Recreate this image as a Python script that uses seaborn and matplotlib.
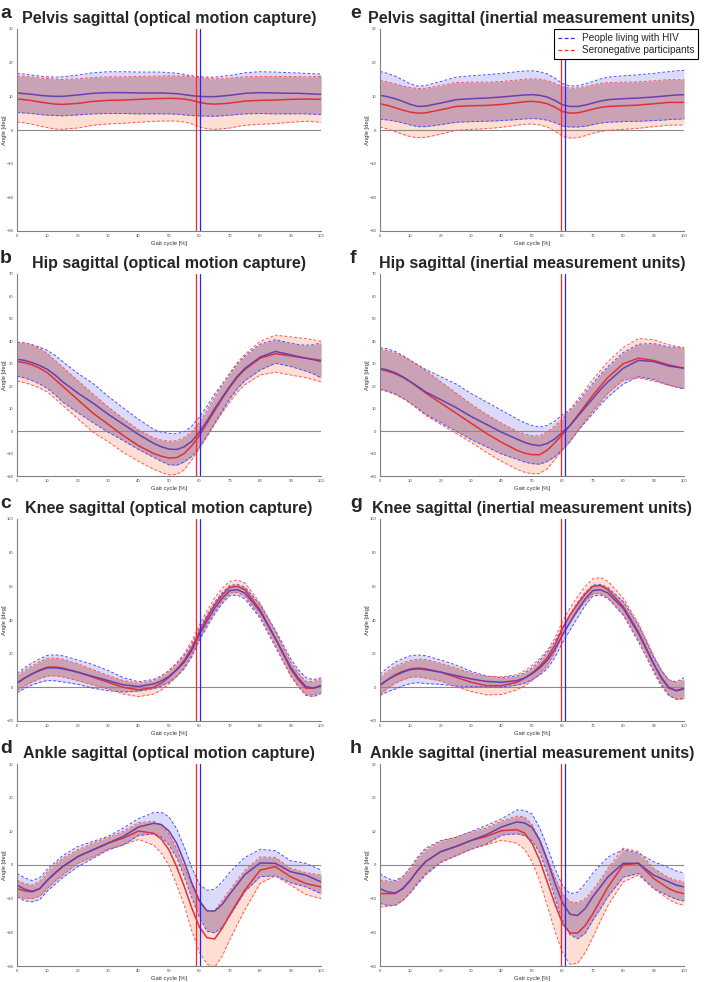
import numpy as np
import matplotlib.pyplot as plt
import seaborn as sns
from matplotlib.lines import Line2D

# gait cycle sample points [%]
gait_cycle = [0, 2.5, 5, 7.5, 10, 12.5, 15, 20, 25, 30, 35, 40, 45, 47.5, 50, 52.5,
              55, 57.5, 60, 62.5, 65, 67.5, 70, 72.5, 75, 80, 85, 90, 92.5, 95, 97.5, 100]

# toe-off (vertical lines), % gait cycle
toe_off_omc = {'HIV': 60.3, 'SN': 58.9}
toe_off_imu = {'HIV': 61.0, 'SN': 59.7}

# pelvis, optical motion capture
pelvis_omc_hiv_mean = [11.0, 10.8, 10.6, 10.3, 10.1, 10.0, 10.0, 10.4, 10.9, 11.1, 11.1, 11.0, 11.0, 11.0, 10.9, 10.8,
                       10.5, 10.2, 10.0, 9.9, 9.9, 10.1, 10.3, 10.6, 10.9, 11.1, 11.0, 10.9, 10.9, 10.8, 10.7, 10.6]
pelvis_omc_hiv_sd = [5.8, 5.75, 5.7, 5.7, 5.7, 5.7, 5.8, 5.9, 6.1, 6.2, 6.2, 6.2, 6.2, 6.2, 6.1, 6.1,
                     6.0, 5.9, 5.8, 5.8, 5.8, 5.85, 5.9, 6.0, 6.1, 6.2, 6.2, 6.1, 6.05, 6.0, 6.0, 6.0]
pelvis_omc_sn_mean = [9.2, 9.0, 8.7, 8.3, 8.0, 7.7, 7.6, 7.9, 8.5, 8.8, 8.9, 9.1, 9.3, 9.35, 9.4, 9.35,
                      9.2, 8.8, 8.2, 7.8, 7.7, 7.8, 8.0, 8.3, 8.6, 8.8, 8.9, 9.1, 9.15, 9.2, 9.15, 9.1]
pelvis_omc_sn_sd = [6.8, 6.9, 7.0, 7.15, 7.3, 7.4, 7.4, 7.3, 7.1, 7.0, 6.9, 6.8, 6.7, 6.7, 6.7, 6.7,
                    6.8, 7.0, 7.3, 7.45, 7.5, 7.45, 7.4, 7.3, 7.2, 7.1, 7.0, 6.8, 6.7, 6.6, 6.7, 6.8]

# pelvis, inertial measurement units
pelvis_imu_hiv_mean = [10.3, 9.9, 9.3, 8.5, 7.6, 7.0, 7.1, 8.0, 9.0, 9.3, 9.5, 9.8, 10.2, 10.4, 10.5, 10.3,
                       9.8, 8.8, 7.5, 7.0, 7.0, 7.4, 8.0, 8.6, 9.0, 9.3, 9.5, 9.8, 10.0, 10.2, 10.4, 10.5]
pelvis_imu_hiv_sd = [7.1, 6.9, 6.7, 6.4, 6.1, 6.0, 6.1, 6.4, 6.7, 6.8, 6.9, 7.0, 7.1, 7.1, 7.1, 7.0,
                     6.9, 6.6, 6.3, 6.1, 6.1, 6.3, 6.4, 6.55, 6.7, 6.8, 6.9, 7.0, 7.1, 7.1, 7.2, 7.2]
pelvis_imu_sn_mean = [7.8, 7.3, 6.6, 5.9, 5.3, 5.0, 5.1, 6.0, 7.0, 7.2, 7.3, 7.6, 8.1, 8.4, 8.5, 8.3,
                      7.8, 6.8, 5.5, 5.0, 5.1, 5.6, 6.2, 6.7, 7.0, 7.2, 7.4, 7.8, 8.0, 8.2, 8.2, 8.2]
pelvis_imu_sn_sd = [6.9, 7.0, 7.1, 7.2, 7.3, 7.3, 7.3, 7.2, 7.1, 7.0, 6.9, 6.8, 6.7, 6.7, 6.7, 6.8,
                    6.9, 7.1, 7.3, 7.4, 7.4, 7.3, 7.2, 7.15, 7.1, 7.0, 6.9, 6.8, 6.8, 6.75, 6.75, 6.75]

# hip, optical motion capture
hip_omc_hiv_mean = [32, 31.5, 30.5, 29.2, 27.5, 25, 22, 17, 12.5, 7.5, 3, -1.5, -5.5, -7, -8, -8.2,
                    -7, -4.5, -0.5, 4.5, 10, 15, 20, 24.5, 28, 33, 35.5, 34, 33.2, 32.5, 32, 31.5]
hip_omc_hiv_sd = [7.5, 7.8, 8, 8.2, 8.5, 8.8, 9, 8.75, 8.75, 8, 7.25, 6.75, 6.25, 6.5, 7, 7,
                  6.75, 6.75, 6.75, 6.6, 6.5, 6, 5.5, 5.5, 5.5, 5.75, 5.25, 5.2, 5.4, 5.75, 6.5, 7.75]
hip_omc_sn_mean = [31, 30.5, 29.5, 28, 26, 23, 20, 14, 8, 3, -2, -6.5, -10, -11.2, -12, -11.8,
                   -10, -6.5, -2, 3.5, 9, 14.5, 19.5, 24, 27.5, 32.5, 34.5, 33.5, 33, 32.5, 31.8, 31]
hip_omc_sn_sd = [8.75, 8.9, 9, 8.8, 8.5, 8.5, 8.5, 8.5, 8.5, 7.75, 7.5, 7, 7, 7.2, 7.5, 7.5,
                 7.25, 6.3, 5.75, 5.8, 6, 6.2, 6.5, 6.6, 6.75, 7.5, 8.25, 8.5, 8.6, 8.75, 8.9, 9]

# hip, inertial measurement units
hip_imu_hiv_mean = [28, 27.2, 26, 24.2, 22, 19.8, 17.5, 14, 10.5, 6.5, 3, -0.5, -3.5, -5, -6, -6.5,
                    -5.5, -3.5, -0.5, 2.5, 6.5, 10.5, 14.5, 18.5, 22, 28, 31.5, 31, 30, 29, 28.5, 28]
hip_imu_hiv_sd = [9.25, 9.4, 9.5, 9.5, 9.5, 9.75, 10, 10.25, 10.5, 10.25, 10, 9.75, 9, 8.75, 8.5, 8.25,
                  8, 7.9, 7.75, 7.25, 6.5, 6.6, 6.75, 6.75, 6.75, 7, 7.25, 8, 8.25, 8.5, 8.9, 9.25]
hip_imu_sn_mean = [27.5, 26.7, 25.5, 24, 22, 19.5, 17, 12.5, 8, 3.5, -1, -5, -8.5, -9.8, -10.5, -10.5,
                   -8.5, -5.2, -1.5, 2.5, 7, 11.5, 16, 20, 24, 30, 32.5, 31.5, 30.5, 29.5, 28.8, 28]
hip_imu_sn_sd = [9, 9.1, 9.25, 9.4, 9.5, 9.75, 10, 9.5, 9, 8.5, 8.5, 8.5, 8.5, 8.5, 8.5, 8.4,
                 8.25, 7.5, 7, 7, 7, 7, 7, 7, 7, 7.25, 8.75, 9.25, 9.1, 9, 9, 9]

# knee, optical motion capture
knee_omc_hiv_mean = [2.5, 5.5, 8, 10, 11.5, 11.6, 11, 9, 6.5, 4, 1.5, 0.5, 2, 3.8, 6.5, 10.3,
                     15, 22, 31.5, 39.5, 47, 53, 57.5, 58, 56, 45, 29, 12, 5.5, 0.5, -0.5, 1]
knee_omc_hiv_sd = [5.75, 6.1, 6.5, 7, 7.5, 7.7, 7.75, 7.25, 7, 6, 4.25, 2.75, 2.75, 3, 3.5, 3.8,
                   4, 3.8, 3.5, 3.5, 3.5, 3.2, 3, 3.2, 3.5, 4, 5, 5, 5, 5.25, 5, 4.75]
knee_omc_sn_mean = [2.5, 5.5, 8, 10.3, 12, 12.1, 11.5, 9, 6, 3, 0, -1.5, 0, 2.5, 6, 10.5,
                    16, 23.5, 33, 41.5, 49, 55, 59.5, 60, 58, 46, 29, 11, 4.5, -0.5, -0.5, 1]
knee_omc_sn_sd = [4.5, 4.6, 4.75, 5, 5.25, 5.25, 5.25, 5, 4.5, 4, 4, 4, 4, 4, 4, 4,
                  4, 4, 4, 4, 4, 3.8, 3.5, 3.7, 4, 4, 4, 4, 4, 4, 4, 4]

# knee, inertial measurement units
knee_imu_hiv_mean = [1.5, 4.5, 7, 9, 10.5, 11, 10.5, 9, 7, 5, 3.5, 3, 4, 5.5, 8, 11.5,
                     16, 22.5, 31, 38.5, 46, 52.5, 57.5, 58, 56, 47, 32, 14, 6, 0, -2, -0.5]
knee_imu_hiv_sd = [6.25, 7.1, 8, 8.1, 8.25, 8.25, 8.25, 7.25, 6.25, 4.5, 3.25, 2.75, 2.75, 3, 3.5, 4.2,
                   5, 4.8, 4.5, 4.5, 4.5, 3.8, 3.25, 3.2, 3.25, 4, 5, 4, 4.2, 4.5, 5.2, 6.25]
knee_imu_sn_mean = [1, 4.5, 7.5, 9.5, 11, 11.5, 11, 9, 6, 3, 1, 1, 3, 5.3, 8.5, 12.5,
                    17.5, 25, 35, 43, 49.5, 55.5, 60, 60.5, 58, 48, 33, 14, 5.5, -0.5, -2, -1]
knee_imu_sn_sd = [5, 5, 5, 5, 5, 5.25, 5.5, 5.25, 5.5, 5.5, 5.5, 5.25, 4.5, 4.5, 4.5, 4.5,
                  4.5, 4.2, 4, 4.2, 4.5, 4.5, 4.5, 4.7, 5, 5, 5, 5, 4.8, 4.5, 5, 5.5]

# ankle, optical motion capture
ankle_omc_hiv_mean = [-6, -7.2, -7.8, -7, -4.5, -2.5, -0.5, 2.5, 4.5, 6.5, 8.5, 11.3, 12.4, 12, 10.1, 6.5,
                      1, -5.3, -10.6, -13.6, -13.7, -11.7, -8.6, -5.7, -2.8, 0.6, 0.5, -2, -2.5, -3, -4, -5]
ankle_omc_hiv_sd = [3.5, 3.4, 3.15, 3.25, 3.25, 3.25, 3.25, 3, 2.5, 2, 2.5, 2.5, 3.15, 3.65, 4.2, 4.3,
                    4.4, 4.5, 4.9, 6.1, 6.45, 6.75, 6.45, 5.8, 5.05, 4.05, 3.75, 3.25, 3.4, 3.5, 3.5, 3.5]
ankle_omc_sn_mean = [-7, -7.7, -8, -7, -4.5, -2.3, -0.5, 2.5, 4.5, 6.5, 8, 10.1, 9.4, 7.7, 4.5, -0.5,
                     -6.3, -12.8, -18.4, -21.6, -22, -18.8, -14.8, -11, -7.4, -1.5, -0.5, -3.5, -4.5, -5.5, -6, -6.5]
ankle_omc_sn_sd = [2.5, 2.2, 2, 2.2, 2.5, 2.5, 2.5, 2, 2, 1.75, 2, 2.5, 3.55, 4.25, 4.7, 5.4,
                   5.6, 6.8, 7.5, 7.85, 8.35, 8.25, 7.4, 6.6, 5.85, 3.9, 2.75, 2.5, 2.9, 3.25, 3.4, 3.5]

# ankle, inertial measurement units
ankle_imu_hiv_mean = [-7, -8, -8.3, -7, -4.5, -1.5, 1, 4, 5.5, 7.3, 9, 11.3, 12.8, 12.5, 11.2, 7.4,
                      1.5, -5.3, -11.2, -14.6, -15, -12.9, -9.4, -6.5, -3.5, 0.5, 0.5, -3, -4, -5, -6, -6.5]
ankle_imu_hiv_sd = [4.4, 4, 3.65, 3.5, 3.75, 4, 4, 3.25, 2.75, 2.65, 2.75, 2.4, 3.55, 3.75, 3.95, 3.7,
                    4, 4.35, 5.15, 6.1, 6.9, 7.4, 7, 6.5, 5.85, 4.1, 3, 4, 4.1, 4.25, 4.2, 4.15]
ankle_imu_sn_mean = [-8.5, -8.5, -8.5, -7, -4.5, -1.5, 1, 4, 5.5, 7.3, 8.5, 10.2, 10.5, 9.5, 6.5, 1.5,
                     -5, -11.5, -17.3, -20.2, -20.2, -18, -14.5, -10.5, -6.5, 0, 0.5, -4, -5.5, -7, -8, -8.5]
ankle_imu_sn_sd = [4, 3.75, 3.5, 3.5, 3.5, 3.5, 3.5, 3, 2.75, 2.5, 2.5, 2.85, 4, 4.8, 5.5, 6.2,
                   7, 8, 8.7, 9.3, 9, 8, 7, 6.2, 5.5, 5, 3.5, 3, 3.1, 3.25, 3.4, 3.5]

legend_labels = ['People living with HIV', 'Seronegative participants']

# colours
BLUE_FILL = '#dadafa'
RED_FILL = '#ffdfd3'
BOTH_FILL = '#c9a3b5'
BLUE_DASH = '#5050ff'
RED_DASH = '#ff5555'
BLUE_MEAN = '#6a3fb0'
RED_MEAN = '#e0303a'

sns.set_style("white")
plt.rcParams['font.family'] = ['Liberation Sans', 'DejaVu Sans']

panels = [
    ('a', 'Pelvis sagittal (optical motion capture)', pelvis_omc_hiv_mean, pelvis_omc_hiv_sd,
     pelvis_omc_sn_mean, pelvis_omc_sn_sd, (-30, 30), 10, toe_off_omc, 0, 0),
    ('b', 'Hip sagittal (optical motion capture)', hip_omc_hiv_mean, hip_omc_hiv_sd,
     hip_omc_sn_mean, hip_omc_sn_sd, (-20, 70), 10, toe_off_omc, 0, 1),
    ('c', 'Knee sagittal (optical motion capture)', knee_omc_hiv_mean, knee_omc_hiv_sd,
     knee_omc_sn_mean, knee_omc_sn_sd, (-20, 100), 20, toe_off_omc, 0, 2),
    ('d', 'Ankle sagittal (optical motion capture)', ankle_omc_hiv_mean, ankle_omc_hiv_sd,
     ankle_omc_sn_mean, ankle_omc_sn_sd, (-30, 30), 10, toe_off_omc, 0, 3),
    ('e', 'Pelvis sagittal (inertial measurement units)', pelvis_imu_hiv_mean, pelvis_imu_hiv_sd,
     pelvis_imu_sn_mean, pelvis_imu_sn_sd, (-30, 30), 10, toe_off_imu, 1, 0),
    ('f', 'Hip sagittal (inertial measurement units)', hip_imu_hiv_mean, hip_imu_hiv_sd,
     hip_imu_sn_mean, hip_imu_sn_sd, (-20, 70), 10, toe_off_imu, 1, 1),
    ('g', 'Knee sagittal (inertial measurement units)', knee_imu_hiv_mean, knee_imu_hiv_sd,
     knee_imu_sn_mean, knee_imu_sn_sd, (-20, 100), 20, toe_off_imu, 1, 2),
    ('h', 'Ankle sagittal (inertial measurement units)', ankle_imu_hiv_mean, ankle_imu_hiv_sd,
     ankle_imu_sn_mean, ankle_imu_sn_sd, (-30, 30), 10, toe_off_imu, 1, 3),
]

W, H = 709, 982
col_left = [17, 380]
row_top = [29, 274, 519, 764]
ax_w, ax_h = 304, 202
letter_x = [0, 350]
dash = (0, (3, 2))

fig = plt.figure(figsize=(W / 100, H / 100), dpi=100)
g = np.array(gait_cycle)

for letter, title, hm, hs, sm, ss, ylim, ystep, toe, col, row in panels:
    ax = fig.add_axes([col_left[col] / W, 1 - (row_top[row] + ax_h) / H, ax_w / W, ax_h / H])
    hm, hs, sm, ss = map(np.array, (hm, hs, sm, ss))
    hi_h, lo_h = hm + hs, hm - hs
    hi_s, lo_s = sm + ss, sm - ss

    # SD bands: HIV only, seronegative only, and their overlap
    ax.fill_between(g, lo_h, hi_h, color=BLUE_FILL, lw=0)
    ax.fill_between(g, lo_s, hi_s, color=RED_FILL, lw=0)
    both_lo = np.maximum(lo_h, lo_s)
    both_hi = np.minimum(hi_h, hi_s)
    ax.fill_between(g, both_lo, both_hi, where=both_hi > both_lo, interpolate=True,
                    color=BOTH_FILL, lw=0)

    ax.axhline(0, color='#8a8a8a', lw=0.8)

    for arr, c in ((hi_h, BLUE_DASH), (lo_h, BLUE_DASH), (hi_s, RED_DASH), (lo_s, RED_DASH)):
        ax.plot(g, arr, color=c, lw=0.7, ls=dash)

    sns.lineplot(x=g, y=sm, ax=ax, color=RED_MEAN, lw=1.1)
    sns.lineplot(x=g, y=hm, ax=ax, color=BLUE_MEAN, lw=1.1)

    ax.axvline(toe['SN'], color='#ff2424', lw=0.9)
    ax.axvline(toe['HIV'], color='#2424ff', lw=0.9)

    ax.set_xlim(0, 100)
    ax.set_ylim(*ylim)
    ax.set_xticks(range(0, 101, 10))
    ax.set_yticks(range(ylim[0], ylim[1] + 1, ystep))
    ax.tick_params(labelsize=3, length=1.5, width=0.5, pad=1, colors='#444444')
    for s in ('top', 'right'):
        ax.spines[s].set_visible(False)
    for s in ('left', 'bottom'):
        ax.spines[s].set_color('#808080')
        ax.spines[s].set_linewidth(0.8)
    ax.set_xlabel('Gait cycle [%]', fontsize=4.2, labelpad=1.5, color='#333333')
    ax.set_ylabel('Angle [deg]', fontsize=4.2, labelpad=0, color='#333333')
    ax.set_title(title, fontsize=11.5, fontweight='bold', pad=4)

    fig.text(letter_x[col] / W, 1 - (row_top[row] - 11) / H, letter,
             fontsize=14, fontweight='bold', va='baseline', ha='left')

    if letter == 'e':
        handles = [Line2D([], [], color='#3030e0', lw=0.9, ls=dash),
                   Line2D([], [], color='#e03030', lw=0.9, ls=dash)]
        leg = ax.legend(handles, legend_labels, loc='upper right',
                        bbox_to_anchor=(698 / W, 1 - 29 / H), bbox_transform=fig.transFigure,
                        fontsize=7.2, frameon=True, fancybox=False, edgecolor='black',
                        borderaxespad=0, handlelength=1.9, handletextpad=0.5,
                        borderpad=0.4, labelspacing=0.2, framealpha=1)
        leg.get_frame().set_linewidth(0.8)

fig.savefig('out.png', dpi=100)
